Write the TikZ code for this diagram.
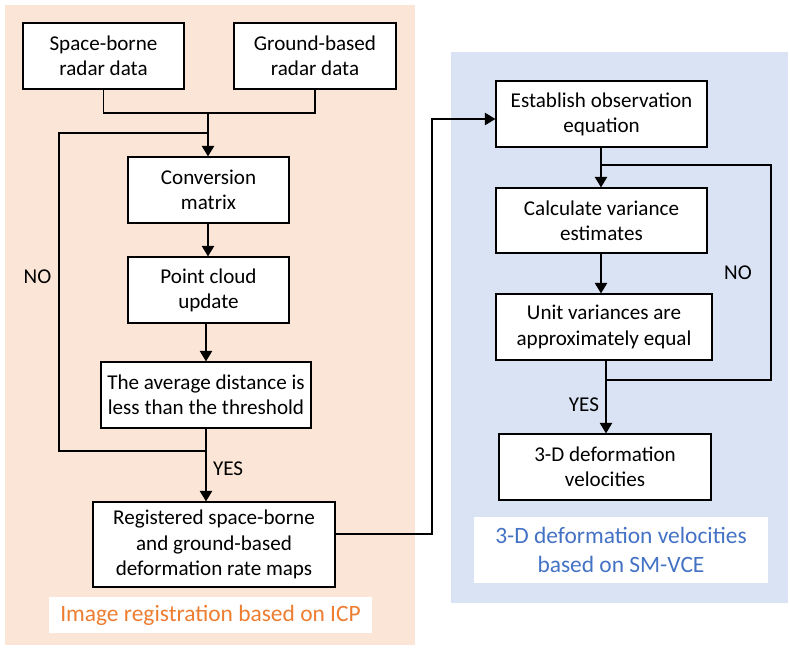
\documentclass[tikz,border=0pt]{standalone}
\usepackage{fontspec}
\setmainfont{Carlito}
\usetikzlibrary{positioning, arrows.meta}

\definecolor{icpfill}{HTML}{FBE5D6}
\definecolor{vcefill}{HTML}{DAE3F3}
\definecolor{icptext}{HTML}{ED7D31}
\definecolor{vcetext}{HTML}{4472C4}

\begin{document}
\begin{tikzpicture}[
    x=0.03cm, y=-0.03cm,
    sz/.style 2 args={minimum width=#1*0.03cm, minimum height=#2*0.03cm},
    proc/.style={rectangle, draw, fill=white, line width=1pt, inner sep=0pt,
                 align=center, font=\fontsize{18}{21.5}\selectfont},
    panelcap/.style={rectangle, fill=white, inner sep=0pt, align=center,
                font=\fontsize{20}{24}\selectfont},
    lbl/.style={font=\fontsize{18}{21.5}\selectfont},
    flow/.style={line width=1.3pt},
    arr/.style={flow, -{Triangle[width=10.5pt, length=9pt]}}
]
  \useasboundingbox (0,0) rectangle (790,648);

  % panels
  \fill[icpfill] (5,5) rectangle (415,645);
  \fill[vcefill] (451,52) rectangle (788,603);

  % ICP registration
  \node[proc, sz={161}{66}] (sb) at (103.5,56) {Space-borne\\radar data};
  \node[proc, sz={162}{66}] (gb) at (315,56) {Ground-based\\radar data};
  \node[proc, sz={161}{66}] (conv) at (208.5,190) {Conversion\\matrix};
  \node[proc, sz={161}{66}] (pcu) at (208.5,290) {Point cloud\\update};
  \node[proc, sz={210}{66}] (thr) at (206,395) {The average distance is\\less than the threshold};
  \node[proc, sz={242}{85}] (reg) at (214,544.5) {Registered space-borne\\and ground-based\\deformation rate maps};
  \node[panelcap, sz={323}{36}, text=icptext] (icp) at (210.5,615) {Image registration based on ICP};

  % SM-VCE
  \node[proc, sz={211}{66}] (est) at (601.5,114) {Establish observation\\equation};
  \node[proc, sz={211}{65}] (calc) at (601.5,220.5) {Calculate variance\\estimates};
  \node[proc, sz={216}{66}] (unit) at (604,327) {Unit variances are\\approximately equal};
  \node[proc, sz={212}{66}] (vel) at (605,467) {3-D deformation\\velocities};
  \node[panelcap, sz={294}{66}, text=vcetext] (vce) at (621,550) {3-D deformation velocities\\based on SM-VCE};

  % junction points
  \coordinate (m1) at (208,113);
  \coordinate (nj) at (208,133);
  \coordinate (nt) at (59,133);
  \coordinate (nb) at (59,451);
  \coordinate (yj) at (206,451);
  \coordinate (c1) at (432,534);
  \coordinate (c2) at (432,119);
  \coordinate (bj) at (601,165);
  \coordinate (rt) at (771,165);
  \coordinate (rb) at (771,380);
  \coordinate (uj) at (606,380);

  % connectors, left
  \draw[flow] (sb.south) |- (m1) -| (gb.south);
  \draw[arr] (m1) -- (m1 |- conv.north);
  \draw[arr] (conv.south -| m1) -- (m1 |- pcu.north);
  \draw[arr] (pcu.south -| thr.north) -- (thr.north);
  \draw[flow] (yj) -- (nb) -- (nt) -- (nj);
  \draw[arr] (thr.south) -- node[lbl, right=2pt, pos=0.55] (yes1) {YES} (thr.south |- reg.north);
  \node[lbl] (no1) at (37.5,277) {NO};

  % link between panels
  \draw[arr] (reg.east |- c1) -- (c1) -- (c2) -- (est.west |- c2);

  % connectors, right
  \draw[arr] (est.south -| bj) -- (bj |- calc.north);
  \draw[flow] (bj) -- (rt) -- (rb) -- (uj);
  \draw[arr] (calc.south -| bj) -- (bj |- unit.north);
  \draw[arr] (unit.south -| uj) -- node[lbl, left=2pt, pos=0.6] (yes2) {YES} (uj |- vel.north);
  \node[lbl] (no2) at (738,273) {NO};
\end{tikzpicture}
\end{document}
